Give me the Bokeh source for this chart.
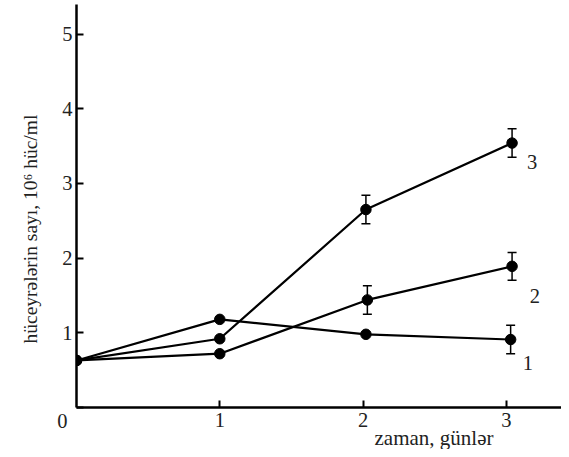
import math
from bokeh.plotting import figure
from bokeh.models import Range1d, Label, Whisker, TeeHead, ColumnDataSource, FixedTicker, Title
from bokeh.embed import file_html
from bokeh.resources import INLINE

# data
x1 = [0, 1.0, 2.02, 3.03]
y1 = [0.63, 1.18, 0.98, 0.91]
e1 = [0, 0, 0, 0.19]
x2 = [0, 1.0, 2.03, 3.04]
y2 = [0.63, 0.72, 1.44, 1.89]
e2 = [0, 0, 0.19, 0.185]
x3 = [0, 1.0, 2.02, 3.04]
y3 = [0.63, 0.92, 2.65, 3.54]
e3 = [0, 0, 0.19, 0.19]
series_names = ["1", "2", "3"]
x_ticks = [1, 2, 3]
y_ticks = [0, 1, 2, 3, 4, 5]
x_title = "zaman, günlər"
y_title = "hüceyrələrin sayı, 10\u2076 hüc/ml"

FONT = "Liberation Serif"
FS = "20.5px"
TXT = "#222222"

p = figure(width=561, height=449, output_backend="svg", toolbar_location=None,
           x_range=Range1d(0, 3.385), y_range=Range1d(0, 5.395),
           min_border_left=76, min_border_right=0, min_border_top=4, min_border_bottom=42)
p.outline_line_color = None
p.xgrid.visible = False
p.ygrid.visible = False

for ax, ticks in ((p.xaxis[0], x_ticks), (p.yaxis[0], y_ticks)):
    ax.ticker = FixedTicker(ticks=ticks)
    ax.axis_line_width = 2.5
    ax.axis_line_color = "black"
    ax.major_tick_in = 7
    ax.major_tick_out = 0
    ax.major_tick_line_width = 2
    ax.minor_tick_in = 0
    ax.minor_tick_out = 0
    ax.major_label_text_font = FONT
    ax.major_label_text_font_size = FS
    ax.major_label_text_color = TXT
    ax.major_label_standoff = 4
p.xaxis[0].major_label_standoff = 5
p.yaxis[0].major_label_overrides = {0: "\n0\u2005"}

for xs, ys, es in ((x1, y1, e1), (x2, y2, e2), (x3, y3, e3)):
    p.line(xs, ys, line_color="black", line_width=2.2)
    p.scatter(xs, ys, size=10.5, color="black")
    bx = [x for x, e in zip(xs, es) if e > 0]
    up = [y + e for y, e in zip(ys, es) if e > 0]
    lo = [y - e for y, e in zip(ys, es) if e > 0]
    src = ColumnDataSource(dict(base=bx, upper=up, lower=lo))
    w = Whisker(source=src, base="base", upper="upper", lower="lower",
                line_color="black", line_width=1.5,
                upper_head=TeeHead(size=9, line_width=1.5, line_color="black"),
                lower_head=TeeHead(size=9, line_width=1.5, line_color="black"))
    p.add_layout(w)

# series labels
for xs, ys, name, dx, dy in ((x1, y1, series_names[0], 0.12, -0.32),
                             (x2, y2, series_names[1], 0.16, -0.40),
                             (x3, y3, series_names[2], 0.14, -0.25)):
    p.add_layout(Label(x=xs[-1] + dx, y=ys[-1] + dy, text=name, text_font=FONT,
                       text_font_size=FS, text_color=TXT,
                       text_align="center", text_baseline="middle"))

p.add_layout(Title(text=x_title, align="left", offset=298, standoff=-11,
                   text_font=FONT, text_font_size="21px", text_color=TXT,
                   text_font_style="normal"), "below")
p.add_layout(Title(text=y_title, align="left", offset=64, standoff=27,
                   text_font=FONT, text_font_size="19.5px", text_color=TXT,
                   text_font_style="normal"), "left")

open("out.html", "w").write(file_html(p, INLINE))
